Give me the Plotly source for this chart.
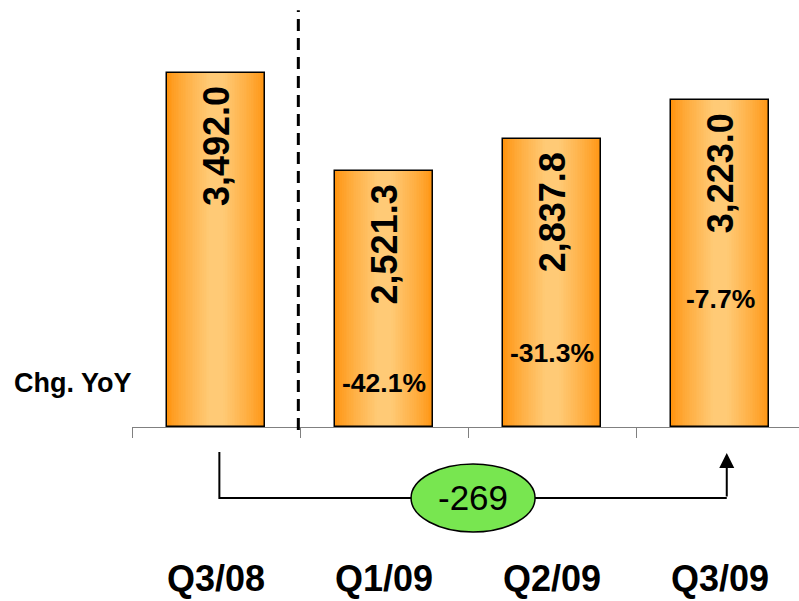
import plotly.graph_objects as go

# Quarterly values
quarters = ["Q3/08", "Q1/09", "Q2/09", "Q3/09"]
revenue = [3492.0, 2521.3, 2837.8, 3223.0]
yoy_change = [None, -42.1, -31.3, -7.7]
bridge_delta = -269

# Layout constants (data units along y)
pct_label_y = [None, 434, 730, 1263]
y_range = [-1716, 4212]
bar_width = 0.583
bracket_top = -247
bracket_bottom = -700
bracket_x = [0.02, 3.04]

FONT = "Liberation Sans, Arial, Helvetica, sans-serif"
EDGE = (255, 148, 15)
CENTER = (255, 202, 118)


def mix(a, b, t):
    return "rgb(%d,%d,%d)" % tuple(round(a[i] + (b[i] - a[i]) * t) for i in range(3))


fig = go.Figure()

# Horizontal gradient on each bar: narrower, lighter layers stacked on top
steps = 28
for i in range(steps):
    t = i / steps
    fig.add_trace(go.Bar(
        x=quarters, y=revenue,
        width=[bar_width * (1 - t)] * len(quarters),
        marker=dict(color=mix(EDGE, CENTER, min(1.0, (t / 0.85)) ** 0.8), line=dict(width=0)),
        hoverinfo="skip", showlegend=False,
    ))

# Outline
fig.add_trace(go.Bar(
    x=quarters, y=revenue, width=[bar_width] * len(quarters),
    marker=dict(color="rgba(0,0,0,0)", line=dict(color="black", width=1.5)),
    showlegend=False,
))

annotations = []
for i, (q, v) in enumerate(zip(quarters, revenue)):
    annotations.append(dict(
        x=i, y=v, xref="x", yref="y", text=f"{v:,.1f}", textangle=-90,
        showarrow=False, yanchor="top", xanchor="center", yshift=-11,
        font=dict(family=FONT, size=36, color="black", weight="bold"),
    ))
    if yoy_change[i] is not None:
        annotations.append(dict(
            x=i, y=pct_label_y[i], xref="x", yref="y", text=f"{yoy_change[i]:.1f}%",
            showarrow=False, font=dict(family=FONT, size=26.5, color="black", weight="bold"),
        ))

annotations.append(dict(
    x=-0.18, y=pct_label_y[1], xref="paper", yref="y", xanchor="left",
    text="Chg. YoY", showarrow=False,
    font=dict(family=FONT, size=27, color="black", weight="bold"),
))

# Bridge between Q3/08 and Q3/09
cx = (bracket_x[0] + bracket_x[1]) / 2
half_w = 0.369
half_h = 335
shapes = [
    dict(type="path", xref="x", yref="y",
         path=(f"M{bracket_x[0]},{bracket_top} L{bracket_x[0]},{bracket_bottom} "
               f"L{bracket_x[1]},{bracket_bottom}"),
         line=dict(color="black", width=2)),
    dict(type="circle", xref="x", yref="y",
         x0=cx - half_w, x1=cx + half_w,
         y0=bracket_bottom - half_h, y1=bracket_bottom + half_h,
         fillcolor="#78E650", line=dict(color="black", width=1.5)),
    dict(type="line", xref="x", yref="paper", x0=0.49, x1=0.49, y0=0.2845, y1=0.983,
         line=dict(color="black", width=3, dash="12px,7px")),
]
annotations.append(dict(
    x=bracket_x[1], y=bracket_top - 10, xref="x", yref="y",
    ax=bracket_x[1], ay=bracket_bottom, axref="x", ayref="y",
    text="", showarrow=True, arrowhead=2, arrowsize=1.5, arrowwidth=2, arrowcolor="black",
))
annotations.append(dict(
    x=cx, y=bracket_bottom, xref="x", yref="y", text=f"{bridge_delta}",
    showarrow=False, font=dict(family=FONT, size=35, color="black"),
))

fig.update_layout(
    width=799, height=601,
    margin=dict(l=132, r=0, t=0, b=0),
    plot_bgcolor="white", paper_bgcolor="white",
    barmode="overlay", bargap=0,
    shapes=shapes, annotations=annotations,
    xaxis=dict(
        type="category", range=[-0.5, 3.47], tickson="boundaries",
        anchor="free", position=(601 - 427) / 601, automargin=False,
        showline=True, linecolor="#808080", linewidth=1,
        ticks="outside", ticklen=10, tickcolor="#808080", tickwidth=1,
        showgrid=False, zeroline=False, ticklabelstandoff=120,
        tickfont=dict(family=FONT, size=36, color="black", weight="bold"),
    ),
    yaxis=dict(range=y_range, visible=False, showgrid=False, zeroline=False,
               automargin=False),
)

fig.write_html("out.html")
